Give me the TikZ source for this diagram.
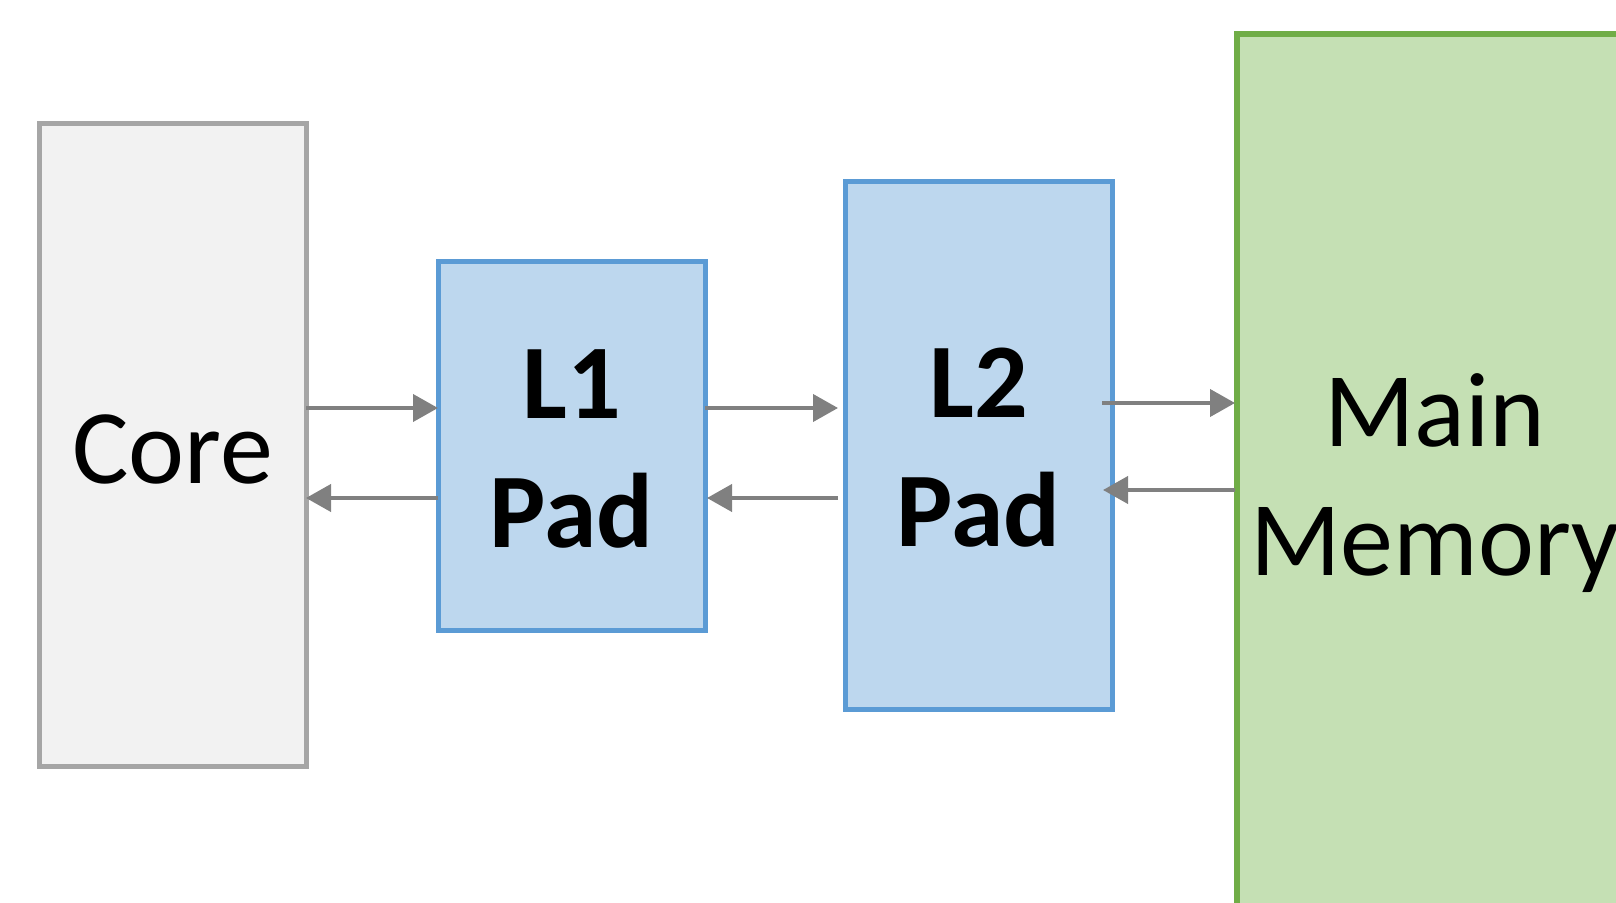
\documentclass[tikz,border=0pt]{standalone}
\usepackage{fontspec}
\setmainfont{Carlito}
\usetikzlibrary{arrows.meta}
\definecolor{coreFill}{HTML}{F2F2F2}
\definecolor{coreLine}{HTML}{A6A6A6}
\definecolor{padFill}{HTML}{BDD7EE}
\definecolor{padLine}{HTML}{5B9BD5}
\definecolor{memFill}{HTML}{C5E0B4}
\definecolor{memLine}{HTML}{70AD47}
\definecolor{arrGray}{HTML}{808080}
\tikzset{
  block/.style={draw, line width=2.5pt, outer sep=0pt, inner sep=0pt},
  corebox/.style={block, fill=coreFill, draw=coreLine},
  padbox/.style={block, fill=padFill, draw=padLine},
  membox/.style={block, fill=memFill, draw=memLine, line width=3pt},
  caption/.style={inner sep=0pt, align=center, font=\fontsize{53}{64.5}\selectfont},
  boldcaption/.style={caption, font=\fontsize{53}{64.5}\selectfont\bfseries},
  arr/.style={draw=arrGray, line width=2pt, -{Triangle[length=12.5pt,width=13.5pt]}}
}
\begin{document}
\begin{tikzpicture}[x=0.5pt,y=-0.5pt]
  \useasboundingbox (0,0) rectangle (1616,903);
  \clip (0,0) rectangle (1616,903);
  \fill[white] (0,0) rectangle (1616,903);

  % memory hierarchy blocks
  \node[corebox, minimum width=133.5pt, minimum height=321pt] (core) at (172.5,445) {};
  \node[padbox, minimum width=133.5pt, minimum height=184pt] (l1) at (571.5,446) {};
  \node[padbox, minimum width=133.5pt, minimum height=263.5pt] (l2) at (978.5,445.5) {};
  \node[membox, minimum width=198pt, minimum height=443pt] (mem) at (1435,477) {};

  % block names
  \node[caption] (coretext) at ([yshift=-2pt]core.center) {Core};
  \node[boldcaption] (l1text) at ([yshift=-1.3pt]l1.center) {L1\\Pad};
  \node[boldcaption] (l2text) at ([yshift=-1.3pt]l2.center) {L2\\Pad};
  \node[caption] (memtext) at ([yshift=-3pt]mem.center) {Main\\Memory};

  % requests and responses between levels
  \draw[arr] (core.east |- 0,408) -- (l1.west |- 0,408);
  \draw[arr] (l1.west |- 0,498) -- (core.east |- 0,498);

  \draw[arr] (l1.east |- 0,408) -- ([xshift=-3.5pt]l2.west |- 0,408);
  \draw[arr] ([xshift=-3.5pt]l2.west |- 0,498) -- ([xshift=1pt]l1.east |- 0,498);

  \draw[arr] ([xshift=-5pt]l2.east |- 0,403) -- ([xshift=-1pt]mem.west |- 0,403);
  \draw[arr] ([xshift=-1pt]mem.west |- 0,490) -- ([xshift=-4.5pt]l2.east |- 0,490);
\end{tikzpicture}
\end{document}
